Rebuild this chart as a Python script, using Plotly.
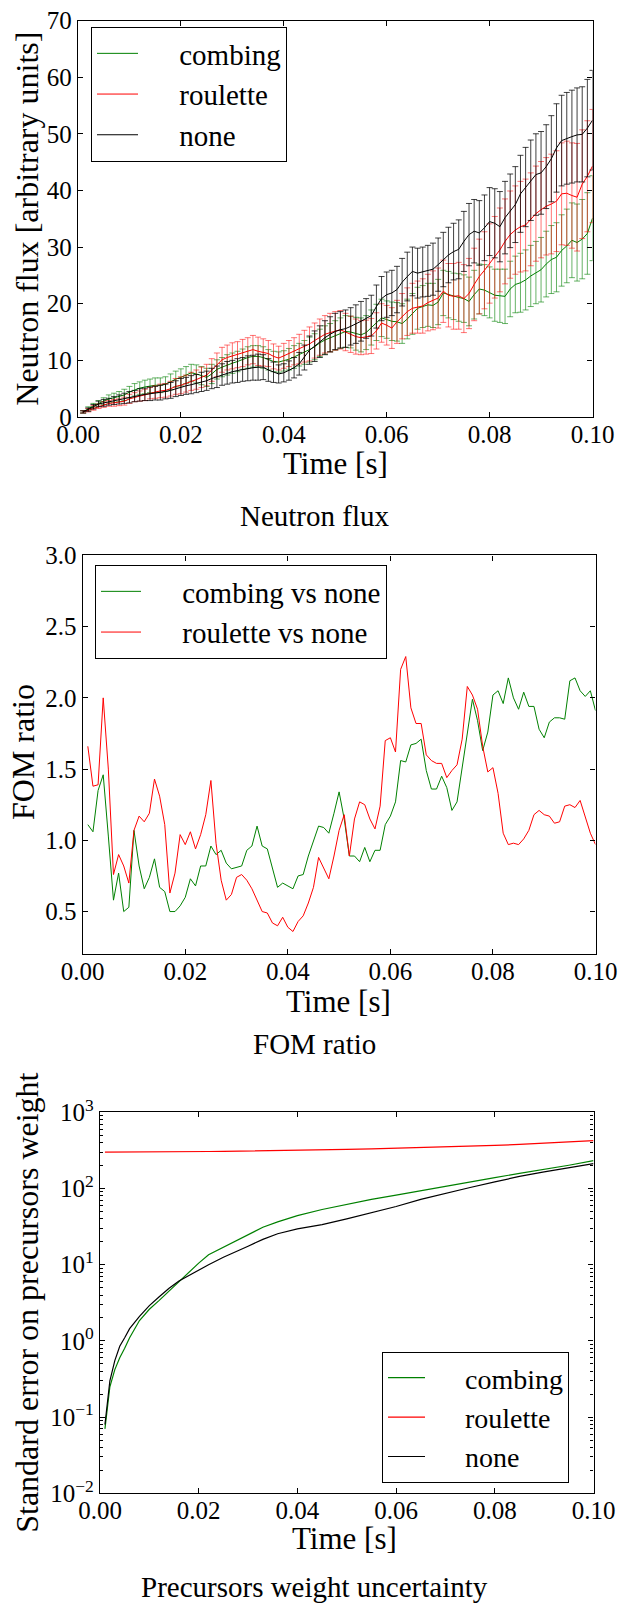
import plotly.graph_objects as go

# ---------------- data ----------------
time_flux = [round(0.001 * i, 3) for i in range(1, 101)]

flux_combing = [0.9, 1.5, 2.0, 2.4, 2.8, 3.2, 3.4, 3.6, 3.9, 4.4,
                4.8, 5.1, 5.3, 5.5, 5.6, 5.6, 5.8, 6.2, 6.7, 7.0,
                7.4, 7.8, 7.6, 7.3, 7.0, 7.6, 8.4, 8.8, 9.2, 9.5,
                9.8, 10.2, 10.5, 10.7, 10.7, 10.5, 10.1, 9.8, 9.7, 9.9,
                10.2, 10.6, 11.0, 11.4, 11.9, 12.4, 13.1, 13.6, 14.0, 14.4,
                14.8, 15.1, 15.0, 14.7, 14.5, 14.9, 15.8, 16.7, 17.5, 17.2,
                16.9, 16.8, 16.5, 17.3, 18.2, 19.2, 19.5, 19.8, 19.7, 20.3,
                21.9, 21.6, 21.3, 21.1, 20.9, 20.4, 21.6, 22.6, 22.4, 22.0,
                21.5, 21.4, 21.3, 22.6, 23.4, 23.7, 24.2, 24.9, 25.5, 26.0,
                27.0, 27.8, 28.2, 29.4, 30.2, 31.2, 30.8, 31.4, 32.4, 35.1]
err_combing = [0.2, 0.3, 0.4, 0.5, 0.6, 0.7, 0.8, 0.9, 1.0, 1.0,
               1.1, 1.1, 1.2, 1.2, 1.3, 1.3, 1.3, 1.4, 1.4, 1.5,
               1.5, 1.5, 1.6, 1.6, 1.6, 1.7, 1.7, 1.7, 1.8, 1.8,
               1.8, 1.8, 1.9, 1.9, 1.9, 1.9, 1.8, 1.8, 1.8, 1.8,
               1.9, 2.0, 2.0, 2.1, 2.2, 2.3, 2.4, 2.5, 2.5, 2.6,
               2.7, 2.8, 2.8, 2.9, 3.0, 3.0, 3.1, 3.2, 3.3, 3.3,
               3.4, 3.4, 3.5, 3.5, 3.6, 3.7, 3.7, 3.8, 3.9, 4.0,
               4.0, 4.1, 4.1, 4.2, 4.2, 4.3, 4.3, 4.4, 4.5, 4.5,
               4.6, 4.7, 4.8, 4.9, 5.0, 5.2, 5.3, 5.4, 5.5, 5.7,
               5.8, 6.0, 6.1, 6.3, 6.5, 6.6, 6.8, 7.0, 7.2, 7.5]

flux_roulette = [0.9, 1.2, 1.6, 1.9, 2.2, 2.4, 2.5, 2.6, 2.8, 3.2,
                 3.5, 3.7, 3.9, 4.2, 4.4, 4.6, 4.7, 5.0, 5.4, 5.6,
                 5.9, 6.3, 6.6, 7.0, 7.4, 8.3, 9.2, 10.1, 10.5, 10.8,
                 11.0, 11.3, 11.6, 11.9, 11.6, 11.4, 11.2, 10.7, 10.4, 10.8,
                 11.2, 11.6, 12.0, 12.5, 12.9, 13.5, 14.1, 14.6, 14.9, 15.2,
                 15.4, 15.0, 14.6, 14.2, 14.0, 14.1, 14.3, 15.2, 16.6, 16.2,
                 15.7, 16.8, 17.8, 18.6, 19.2, 19.4, 19.6, 20.2, 20.6, 21.0,
                 22.2, 21.5, 21.3, 21.4, 20.9, 21.8, 23.4, 24.8, 25.9, 27.1,
                 28.2, 29.5, 31.0, 32.2, 33.0, 33.6, 33.9, 34.9, 35.9, 36.6,
                 37.2, 37.6, 38.1, 39.4, 39.5, 39.1, 38.8, 41.1, 42.5, 44.3]
err_roulette = [0.2, 0.3, 0.4, 0.4, 0.5, 0.5, 0.6, 0.6, 0.7, 0.8,
                0.8, 0.9, 1.0, 1.0, 1.1, 1.2, 1.2, 1.3, 1.4, 1.5,
                1.5, 1.6, 1.7, 1.8, 1.9, 2.0, 2.1, 2.2, 2.2, 2.3,
                2.3, 2.4, 2.4, 2.5, 2.5, 2.4, 2.3, 2.2, 2.1, 2.2,
                2.3, 2.4, 2.6, 2.8, 3.0, 3.1, 3.2, 3.3, 3.4, 3.4,
                3.4, 3.3, 3.2, 3.1, 3.0, 3.0, 3.1, 3.2, 3.4, 3.5,
                3.6, 3.8, 4.0, 4.2, 4.4, 4.6, 4.8, 5.0, 5.2, 5.3,
                5.5, 5.6, 5.8, 5.9, 6.0, 6.2, 6.4, 6.6, 6.8, 7.0,
                7.2, 7.4, 7.5, 7.7, 7.8, 8.0, 8.1, 8.2, 8.4, 8.5,
                8.6, 8.8, 8.9, 9.0, 9.2, 9.3, 9.5, 9.6, 9.8, 10.0]

flux_none = [0.9, 1.3, 1.8, 2.3, 2.5, 2.7, 2.9, 3.1, 3.3, 3.5,
             3.7, 3.9, 4.0, 4.1, 4.2, 4.3, 4.5, 4.7, 5.0, 5.3,
             5.5, 5.7, 5.9, 6.2, 6.4, 6.8, 7.1, 7.5, 7.8, 8.0,
             8.2, 8.4, 8.6, 8.7, 8.8, 8.8, 8.3, 7.9, 7.6, 7.8,
             8.2, 8.7, 9.4, 10.5, 11.8, 12.5, 13.3, 14.0, 14.6, 15.1,
             15.4, 15.6, 16.0, 16.4, 16.9, 17.4, 17.9, 19.5, 20.9, 21.6,
             21.9, 22.5, 23.8, 24.8, 25.7, 25.4, 25.6, 25.8, 26.1, 26.9,
             27.8, 28.6, 29.2, 29.6, 31.0, 32.2, 32.8, 32.5, 33.4, 34.5,
             34.2, 33.6, 35.2, 36.4, 37.5, 39.4, 40.6, 41.8, 42.8, 43.1,
             44.2, 45.6, 47.5, 48.8, 49.2, 49.5, 49.8, 49.9, 51.0, 52.4]
err_none = [0.2, 0.3, 0.4, 0.5, 0.6, 0.6, 0.7, 0.8, 0.9, 1.0,
            1.0, 1.1, 1.1, 1.2, 1.2, 1.3, 1.3, 1.4, 1.4, 1.5,
            1.5, 1.6, 1.6, 1.7, 1.7, 1.8, 1.9, 1.9, 2.0, 2.0,
            2.1, 2.1, 2.2, 2.2, 2.3, 2.2, 2.0, 1.8, 1.6, 1.6,
            1.7, 1.8, 2.0, 2.2, 2.5, 2.7, 2.8, 3.0, 3.1, 3.2,
            3.2, 3.3, 3.3, 3.4, 3.5, 3.5, 3.6, 3.8, 3.9, 4.0,
            4.0, 4.1, 4.2, 4.3, 4.3, 4.4, 4.4, 4.5, 4.6, 4.7,
            4.8, 4.9, 5.0, 5.2, 5.3, 5.5, 5.6, 5.7, 5.8, 6.0,
            6.1, 6.2, 6.4, 6.5, 6.7, 6.8, 7.0, 7.1, 7.2, 7.3,
            7.4, 7.6, 7.8, 8.0, 8.1, 8.2, 8.3, 8.4, 8.6, 8.8]

time_fom = time_flux
fom_combing = [1.11, 1.06, 1.35, 1.46, 1.03, 0.58, 0.77, 0.50, 0.53, 1.07,
               0.82, 0.66, 0.74, 0.87, 0.67, 0.64, 0.50, 0.50, 0.54, 0.60,
               0.73, 0.68, 0.82, 0.82, 0.96, 0.90, 0.93, 0.84, 0.80, 0.81,
               0.82, 0.93, 0.96, 1.10, 0.96, 0.94, 0.81, 0.67, 0.70, 0.68,
               0.66, 0.75, 0.76, 0.89, 0.99, 1.10, 1.09, 1.05, 1.19, 1.34,
               1.15, 0.89, 0.89, 0.85, 0.95, 0.85, 0.93, 0.93, 1.11, 1.17,
               1.27, 1.56, 1.55, 1.67, 1.68, 1.71, 1.49, 1.36, 1.36, 1.45,
               1.37, 1.21, 1.27, 1.51, 1.76, 1.99, 1.84, 1.63, 1.76, 2.02,
               2.05, 1.96, 2.14, 2.00, 1.92, 2.04, 1.94, 1.94, 1.78, 1.72,
               1.83, 1.86, 1.86, 1.85, 2.12, 2.14, 2.05, 2.01, 2.05, 1.91]
fom_roulette = [1.66, 1.38, 1.39, 2.00, 1.50, 0.76, 0.90, 0.82, 0.70, 1.07,
                1.17, 1.13, 1.19, 1.43, 1.31, 1.11, 0.63, 0.77, 1.04, 0.97,
                1.06, 0.94, 1.04, 1.18, 1.42, 0.98, 0.72, 0.58, 0.62, 0.74,
                0.76, 0.72, 0.66, 0.58, 0.50, 0.49, 0.42, 0.40, 0.46, 0.39,
                0.36, 0.43, 0.47, 0.56, 0.67, 0.88, 0.80, 0.73, 0.89, 1.07,
                1.18, 0.89, 1.15, 1.27, 1.25, 1.15, 1.08, 1.24, 1.70, 1.72,
                1.62, 2.20, 2.29, 1.93, 1.82, 1.82, 1.60, 1.56, 1.54, 1.54,
                1.44, 1.49, 1.53, 1.71, 2.08, 2.02, 1.92, 1.66, 1.48, 1.51,
                1.33, 1.05, 0.97, 0.98, 0.97, 1.01, 1.07, 1.18, 1.21, 1.18,
                1.17, 1.12, 1.13, 1.24, 1.25, 1.23, 1.28, 1.16, 1.05, 0.97]

time_prec = [0.001, 0.002, 0.003, 0.004, 0.005, 0.006, 0.008, 0.010, 0.012, 0.014,
             0.016, 0.018, 0.020, 0.022, 0.025, 0.028, 0.030, 0.033, 0.036, 0.040,
             0.045, 0.050, 0.055, 0.060, 0.065, 0.070, 0.075, 0.080, 0.085, 0.090,
             0.095, 0.100]
prec_combing = [0.07, 0.25, 0.42, 0.6, 0.8, 1.1, 1.85, 2.6, 3.4, 4.5,
                6.0, 8.0, 10.5, 13.5, 17.0, 21.5, 24.5, 31.0, 36.5, 44,
                53, 62, 72, 82, 94, 107, 122, 139, 158, 178,
                202, 232]
prec_roulette = [300, 300, 300, 300.5, 301, 301, 301.5, 302, 302.5, 303,
                 304, 304.5, 305, 306, 307.5, 309, 310, 312, 314.5, 318,
                 322, 326, 331, 337, 343, 350, 358, 368, 379, 392,
                 407, 425]
prec_none = [0.08, 0.3, 0.55, 0.85, 1.1, 1.45, 2.1, 2.9, 3.8, 4.9,
             6.1, 7.2, 8.5, 10.0, 12.5, 15.5, 17.5, 21.5, 25.5, 29.5,
             33.5, 40, 48, 58, 72, 87, 103, 122, 144, 165,
             188, 212]

time_ticks = [0.0, 0.02, 0.04, 0.06, 0.08, 0.10]
flux_ticks = [0, 10, 20, 30, 40, 50, 60, 70]
fom_ticks = [0.5, 1.0, 1.5, 2.0, 2.5, 3.0]
prec_ticks = [0.01, 0.1, 1, 10, 100, 1000]
prec_ticktext = ["10<sup>\u22122</sup>", "10<sup>\u22121</sup>", "10<sup>0</sup>",
                 "10<sup>1</sup>", "10<sup>2</sup>", "10<sup>3</sup>"]

# ---------------- style ----------------
W, H = 619, 1603
FONT = "Liberation Serif, Times New Roman, serif"
GREEN, RED, BLACK = "#008000", "#ff0000", "#000000"
PAD = "\u00a0" * 5


def fx(px):
    return px / W


def fy(py):
    return 1 - py / H


fig = go.Figure()

for name, ys, es, col, ecol in [
    ("combing", flux_combing, err_combing, GREEN, "rgba(0,128,0,0.6)"),
    ("roulette", flux_roulette, err_roulette, RED, "rgba(255,0,0,0.55)"),
    ("none", flux_none, err_none, BLACK, "rgba(0,0,0,0.75)"),
]:
    fig.add_trace(go.Scatter(
        x=time_flux, y=ys, mode="lines", name=PAD + name,
        line=dict(color=col, width=1),
        error_y=dict(type="data", array=es, visible=True, color=ecol,
                     thickness=1, width=3),
        xaxis="x", yaxis="y", legend="legend"))

for name, ys, col in [("combing vs none", fom_combing, GREEN),
                      ("roulette vs none", fom_roulette, RED)]:
    fig.add_trace(go.Scatter(
        x=time_fom, y=ys, mode="lines", name=PAD + name,
        line=dict(color=col, width=1),
        xaxis="x2", yaxis="y2", legend="legend2"))

for name, ys, col in [("combing", prec_combing, GREEN),
                      ("roulette", prec_roulette, RED),
                      ("none", prec_none, BLACK)]:
    fig.add_trace(go.Scatter(
        x=time_prec, y=ys, mode="lines", name=PAD + name,
        line=dict(color=col, width=1.2),
        xaxis="x3", yaxis="y3", legend="legend3"))

tickfont = dict(family=FONT, size=25, color="black")
xtitlefont = dict(family=FONT, size=31, color="black")
ytitlefont = dict(family=FONT, size=32, color="black")
capfont = dict(family=FONT, size=29, color="black")
common = dict(showline=True, linecolor="black", linewidth=1.3, mirror="ticks",
              ticks="inside", ticklen=5, tickwidth=1, tickcolor="black",
              showgrid=False, zeroline=False, automargin=False,
              tickfont=tickfont)

xcommon = dict(common, range=[0, 0.1], tickvals=time_ticks, tickformat=".2f",
               ticklabelstandoff=-5)

legend_common = dict(bgcolor="white", bordercolor="black", borderwidth=1,
                     xanchor="left", yanchor="top", tracegroupgap=0)


def caption(text, xc, yc, font, angle=0):
    return dict(text=text, x=fx(xc), y=fy(yc), xref="paper", yref="paper",
                showarrow=False, xanchor="center", yanchor="middle",
                font=font, textangle=angle)


fig.update_layout(
    width=W, height=H,
    margin=dict(l=0, r=0, t=0, b=0),
    paper_bgcolor="white", plot_bgcolor="white",
    template="none",
    font=dict(family=FONT, color="black"),
    xaxis=dict(xcommon, domain=[fx(78), fx(592.5)], anchor="y"),
    yaxis=dict(common, domain=[fy(417), fy(20.5)], anchor="x",
               range=[0, 70], tickvals=flux_ticks),
    xaxis2=dict(xcommon, domain=[fx(82.7), fx(595.5)], anchor="y2"),
    yaxis2=dict(common, domain=[fy(954.3), fy(555.4)], anchor="x2",
                range=[0.2, 3.0], tickvals=fom_ticks, tickformat=".1f"),
    xaxis3=dict(xcommon, domain=[fx(100), fx(593.5)], anchor="y3"),
    yaxis3=dict(common, domain=[fy(1493.3), fy(1112.3)], anchor="x3",
                type="log", range=[-2, 3], tickvals=prec_ticks,
                ticktext=prec_ticktext,
                minor=dict(ticks="inside", ticklen=3, dtick="D1",
                           tickcolor="black", showgrid=False)),
    legend=dict(legend_common, x=fx(91), y=fy(27), itemwidth=41,
                font=dict(family=FONT, size=29, color="black")),
    legend2=dict(legend_common, x=fx(95), y=fy(565), itemwidth=40,
                 font=dict(family=FONT, size=29, color="black")),
    legend3=dict(legend_common, x=fx(382), y=fy(1352), itemwidth=37,
                 font=dict(family=FONT, size=28, color="black")),
    annotations=[
        caption("Neutron flux [arbitrary units]", 27, 218.7, ytitlefont, -90),
        caption("FOM ratio", 23, 752, ytitlefont, -90),
        caption("Standard error on precursors weight", 27, 1302.8, ytitlefont, -90),
        caption("Time [s]", 335, 463.5, xtitlefont),
        caption("Time [s]", 338, 1001, xtitlefont),
        caption("Time [s]", 344.5, 1538.5, xtitlefont),
        caption("Neutron flux", 314, 516, capfont),
        caption("FOM ratio", 314, 1044, capfont),
        caption("Precursors weight uncertainty", 314.5, 1587, capfont),
    ],
)

fig.write_html("out.html")
